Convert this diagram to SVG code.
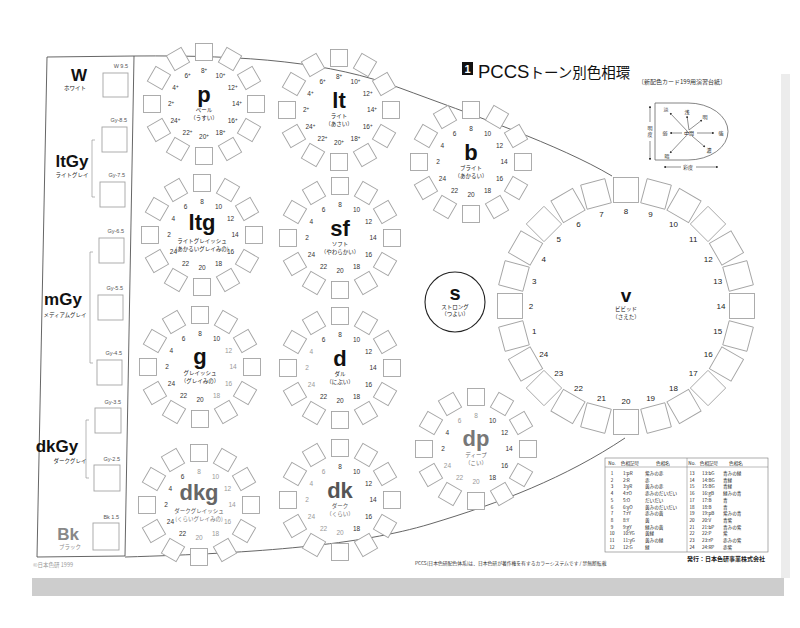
<svg xmlns="http://www.w3.org/2000/svg" width="800" height="628" viewBox="0 0 800 628">
<style>
.sq{fill:#fff;stroke:#a4a4a4;stroke-width:0.9}
.n{font-family:"Liberation Sans",Arial,sans-serif;font-size:6.5px;text-anchor:middle;fill:#333}
.vn{font-family:"Liberation Sans",Arial,sans-serif;font-size:8px;text-anchor:middle;fill:#222}
.sym{font-family:"Liberation Sans",Arial,sans-serif;font-weight:bold;text-anchor:middle;fill:#111}
.jp{font-family:"Noto Sans CJK JP",sans-serif;font-size:5.5px;text-anchor:middle;fill:#222}
.lbl{font-family:"Liberation Sans",Arial,sans-serif;font-size:5.5px;text-anchor:end;fill:#555}
.big{font-family:"Liberation Sans",Arial,sans-serif;font-weight:bold;text-anchor:middle;fill:#111}
.curve{fill:none;stroke:#555;stroke-width:0.9}
.tb{font-family:"Noto Sans CJK JP",sans-serif;font-size:4.6px;fill:#222}
.mini{font-family:"Noto Sans CJK JP",sans-serif;font-size:5px;text-anchor:middle;fill:#222}
.lt{fill:#999}
</style>
<defs>
<rect id="s" x="-8.5" y="-8.5" width="17" height="17" class="sq"/>
<g id="ring12">
<use href="#s" transform="rotate(0) translate(0,-52)"/>
<use href="#s" transform="rotate(30) translate(0,-52)"/>
<use href="#s" transform="rotate(60) translate(0,-52)"/>
<use href="#s" transform="rotate(90) translate(0,-52)"/>
<use href="#s" transform="rotate(120) translate(0,-52)"/>
<use href="#s" transform="rotate(150) translate(0,-52)"/>
<use href="#s" transform="rotate(180) translate(0,-52)"/>
<use href="#s" transform="rotate(210) translate(0,-52)"/>
<use href="#s" transform="rotate(240) translate(0,-52)"/>
<use href="#s" transform="rotate(270) translate(0,-52)"/>
<use href="#s" transform="rotate(300) translate(0,-52)"/>
<use href="#s" transform="rotate(330) translate(0,-52)"/>
</g>
<rect id="vs" x="-12.5" y="-12.5" width="25" height="25" class="sq"/>
<g id="ring24">
<use href="#vs" transform="rotate(0) translate(0,-116)"/>
<use href="#vs" transform="rotate(15) translate(0,-116)"/>
<use href="#vs" transform="rotate(30) translate(0,-116)"/>
<use href="#vs" transform="rotate(45) translate(0,-116)"/>
<use href="#vs" transform="rotate(60) translate(0,-116)"/>
<use href="#vs" transform="rotate(75) translate(0,-116)"/>
<use href="#vs" transform="rotate(90) translate(0,-116)"/>
<use href="#vs" transform="rotate(105) translate(0,-116)"/>
<use href="#vs" transform="rotate(120) translate(0,-116)"/>
<use href="#vs" transform="rotate(135) translate(0,-116)"/>
<use href="#vs" transform="rotate(150) translate(0,-116)"/>
<use href="#vs" transform="rotate(165) translate(0,-116)"/>
<use href="#vs" transform="rotate(180) translate(0,-116)"/>
<use href="#vs" transform="rotate(195) translate(0,-116)"/>
<use href="#vs" transform="rotate(210) translate(0,-116)"/>
<use href="#vs" transform="rotate(225) translate(0,-116)"/>
<use href="#vs" transform="rotate(240) translate(0,-116)"/>
<use href="#vs" transform="rotate(255) translate(0,-116)"/>
<use href="#vs" transform="rotate(270) translate(0,-116)"/>
<use href="#vs" transform="rotate(285) translate(0,-116)"/>
<use href="#vs" transform="rotate(300) translate(0,-116)"/>
<use href="#vs" transform="rotate(315) translate(0,-116)"/>
<use href="#vs" transform="rotate(330) translate(0,-116)"/>
<use href="#vs" transform="rotate(345) translate(0,-116)"/>
</g>
<marker id="ah" viewBox="0 0 6 6" refX="5" refY="3" markerWidth="4" markerHeight="4" orient="auto-start-reverse"><path d="M0,0 L6,3 L0,6 Z" fill="#333"/></marker>
</defs>

<rect width="800" height="628" fill="#fff"/>
<!-- page shadow -->
<g id="paper">
<polygon points="32,578 784,578 784,596 32,596" fill="#cdcdcd"/>
<polygon points="781,74 790,74 790,578 781,578" fill="#ececec"/>
</g>

<!-- outline curves -->
<g id="connectors">
<polygon points="47,57 134,56 125,556 37,557" class="curve"/>
<path class="curve" d="M134,56 C250,55 330,62 400,88 S560,145 612,176"/>
<path class="curve" d="M125,557 C260,553 360,545 430,524 S565,478 625,438"/>
<line x1="92" y1="140" x2="92" y2="197" stroke="#999" stroke-width="0.7"/>
<line x1="92" y1="140" x2="95" y2="140" stroke="#999" stroke-width="0.7"/>
<line x1="92" y1="197" x2="95" y2="197" stroke="#999" stroke-width="0.7"/>
<line x1="90" y1="252" x2="90" y2="363" stroke="#999" stroke-width="0.7"/>
<line x1="90" y1="252" x2="93" y2="252" stroke="#999" stroke-width="0.7"/>
<line x1="90" y1="363" x2="93" y2="363" stroke="#999" stroke-width="0.7"/>
<line x1="86" y1="420" x2="86" y2="478" stroke="#999" stroke-width="0.7"/>
<line x1="86" y1="420" x2="89" y2="420" stroke="#999" stroke-width="0.7"/>
<line x1="86" y1="478" x2="89" y2="478" stroke="#999" stroke-width="0.7"/>
</g>

<!-- achromatic column -->
<g id="achromatic">
<rect x="103" y="73" width="25" height="24" class="sq"/><text class="lbl" x="128" y="68">W 9.5</text>
<rect x="102" y="127" width="25" height="25" class="sq"/><text class="lbl" x="127" y="122">Gy-8.5</text>
<rect x="100" y="182" width="25" height="25" class="sq"/><text class="lbl" x="125" y="177">Gy-7.5</text>
<rect x="99" y="238" width="25" height="25" class="sq"/><text class="lbl" x="124" y="233">Gy-6.5</text>
<rect x="98" y="295" width="25" height="25" class="sq"/><text class="lbl" x="123" y="290">Gy-5.5</text>
<rect x="97" y="360" width="25" height="25" class="sq"/><text class="lbl" x="122" y="355">Gy-4.5</text>
<rect x="95" y="408" width="26" height="25" class="sq"/><text class="lbl" x="121" y="404">Gy-3.5</text>
<rect x="94" y="465" width="26" height="26" class="sq"/><text class="lbl" x="120" y="461">Gy-2.5</text>
<rect x="93" y="523" width="26" height="27" class="sq"/><text class="lbl" x="119" y="519">Bk 1.5</text>
<text class="big" x="79" y="81" font-size="17">W</text><text class="jp" x="75" y="90">ホワイト</text>
<text class="big" x="72" y="167" font-size="17">ltGy</text><text class="jp" x="72" y="177">ライトグレイ</text>
<text class="big" x="63" y="305" font-size="17">mGy</text><text class="jp" x="65" y="317">メディアムグレイ</text>
<text class="big" x="57" y="452" font-size="17">dkGy</text><text class="jp" x="70" y="463">ダークグレイ</text>
<text class="big" x="68" y="540" font-size="17" style="fill:#888">Bk</text><text class="jp" x="70" y="549" style="fill:#888">ブラック</text>
<text x="33" y="567" font-family="Noto Sans CJK JP,sans-serif" font-size="5.5" fill="#999">©日本色研 1999</text>
</g>

<!-- p -->
<g id="tone-p" transform="translate(204,104)">
<use href="#ring12"/>
<g class="n">
<text x="-33" y="2.3">2<tspan font-size="4.5" dy="-2">+</tspan></text>
<text x="-28.6" y="-14.2">4<tspan font-size="4.5" dy="-2">+</tspan></text>
<text x="-16.5" y="-26.3">6<tspan font-size="4.5" dy="-2">+</tspan></text>
<text x="0" y="-30.7">8<tspan font-size="4.5" dy="-2">+</tspan></text>
<text x="16.5" y="-26.3">10<tspan font-size="4.5" dy="-2">+</tspan></text>
<text x="28.6" y="-14.2">12<tspan font-size="4.5" dy="-2">+</tspan></text>
<text x="33" y="2.3">14<tspan font-size="4.5" dy="-2">+</tspan></text>
<text x="28.6" y="18.8">16<tspan font-size="4.5" dy="-2">+</tspan></text>
<text x="16.5" y="30.9">18<tspan font-size="4.5" dy="-2">+</tspan></text>
<text x="0" y="35.3">20<tspan font-size="4.5" dy="-2">+</tspan></text>
<text x="-16.5" y="30.9">22<tspan font-size="4.5" dy="-2">+</tspan></text>
<text x="-28.6" y="18.8">24<tspan font-size="4.5" dy="-2">+</tspan></text>
</g>
<text class="sym" x="0" y="-2" font-size="22">p</text>
<text class="jp" x="0" y="8">ペール</text>
<text class="jp" x="0" y="16">（うすい）</text>
</g>

<!-- lt -->
<g id="tone-lt" transform="translate(339,110)">
<use href="#ring12"/>
<g class="n">
<text x="-33" y="2.3">2<tspan font-size="4.5" dy="-2">+</tspan></text>
<text x="-28.6" y="-14.2">4<tspan font-size="4.5" dy="-2">+</tspan></text>
<text x="-16.5" y="-26.3">6<tspan font-size="4.5" dy="-2">+</tspan></text>
<text x="0" y="-30.7">8<tspan font-size="4.5" dy="-2">+</tspan></text>
<text x="16.5" y="-26.3">10<tspan font-size="4.5" dy="-2">+</tspan></text>
<text x="28.6" y="-14.2">12<tspan font-size="4.5" dy="-2">+</tspan></text>
<text x="33" y="2.3">14<tspan font-size="4.5" dy="-2">+</tspan></text>
<text x="28.6" y="18.8">16<tspan font-size="4.5" dy="-2">+</tspan></text>
<text x="16.5" y="30.9">18<tspan font-size="4.5" dy="-2">+</tspan></text>
<text x="0" y="35.3">20<tspan font-size="4.5" dy="-2">+</tspan></text>
<text x="-16.5" y="30.9">22<tspan font-size="4.5" dy="-2">+</tspan></text>
<text x="-28.6" y="18.8">24<tspan font-size="4.5" dy="-2">+</tspan></text>
</g>
<text class="sym" x="0" y="-2" font-size="22">lt</text>
<text class="jp" x="0" y="8">ライト</text>
<text class="jp" x="0" y="16">（あさい）</text>
</g>

<!-- ltg -->
<g id="tone-ltg" transform="translate(202,235)">
<use href="#ring12"/>
<g class="n">
<text x="-33" y="2.3">2</text><text x="-28.6" y="-14.2">4</text><text x="-16.5" y="-26.3">6</text><text x="0" y="-30.7">8</text>
<text x="16.5" y="-26.3">10</text><text x="28.6" y="-14.2">12</text><text x="33" y="2.3">14</text><text x="28.6" y="18.8">16</text>
<text x="16.5" y="30.9">18</text><text x="0" y="35.3">20</text><text x="-16.5" y="30.9">22</text><text x="-28.6" y="18.8">24</text>
</g>
<text class="sym" x="0" y="-5" font-size="22">ltg</text>
<text class="jp" x="0" y="8" font-size="4.2">ライトグレイッシュ</text>
<text class="jp" x="0" y="15.5" font-size="4.2">(あかるいグレイみの)</text>
</g>

<!-- sf -->
<g id="tone-sf" transform="translate(340,238)">
<use href="#ring12"/>
<g class="n">
<text x="-33" y="2.3">2</text><text x="-28.6" y="-14.2">4</text><text x="-16.5" y="-26.3">6</text><text x="0" y="-30.7">8</text>
<text x="16.5" y="-26.3">10</text><text x="28.6" y="-14.2">12</text><text x="33" y="2.3">14</text><text x="28.6" y="18.8">16</text>
<text x="16.5" y="30.9">18</text><text x="0" y="35.3">20</text><text x="-16.5" y="30.9">22</text><text x="-28.6" y="18.8">24</text>
</g>
<text class="sym" x="0" y="-2" font-size="22">sf</text>
<text class="jp" x="0" y="8">ソフト</text>
<text class="jp" x="0" y="16">（やわらかい）</text>
</g>

<!-- g -->
<g id="tone-g" transform="translate(200,367)">
<use href="#ring12"/>
<g class="n">
<text x="-33" y="2.3">2</text><text x="-28.6" y="-14.2">4</text><text x="-16.5" y="-26.3">6</text><text x="0" y="-30.7">8</text>
<text x="16.5" y="-26.3">10</text><text x="28.6" y="-14.2" class="lt">12</text><text x="33" y="2.3" class="lt">14</text><text x="28.6" y="18.8" class="lt">16</text>
<text x="16.5" y="30.9" class="lt">18</text><text x="0" y="35.3">20</text><text x="-16.5" y="30.9">22</text><text x="-28.6" y="18.8">24</text>
</g>
<text class="sym" x="0" y="-3" font-size="22">g</text>
<text class="jp" x="0" y="8">グレイッシュ</text>
<text class="jp" x="0" y="16">（グレイみの）</text>
</g>

<!-- d -->
<g id="tone-d" transform="translate(340,368)">
<use href="#ring12"/>
<g class="n">
<text x="-33" y="2.3" class="lt">2</text><text x="-28.6" y="-14.2" class="lt">4</text><text x="-16.5" y="-26.3">6</text><text x="0" y="-30.7">8</text>
<text x="16.5" y="-26.3">10</text><text x="28.6" y="-14.2">12</text><text x="33" y="2.3">14</text><text x="28.6" y="18.8">16</text>
<text x="16.5" y="30.9">18</text><text x="0" y="35.3">20</text><text x="-16.5" y="30.9">22</text><text x="-28.6" y="18.8" class="lt">24</text>
</g>
<text class="sym" x="0" y="-2" font-size="22">d</text>
<text class="jp" x="0" y="8">ダル</text>
<text class="jp" x="0" y="16">（にぶい）</text>
</g>

<!-- dkg -->
<g id="tone-dkg" transform="translate(199,505)">
<use href="#ring12"/>
<g class="n">
<text x="-33" y="2.3">2</text><text x="-28.6" y="-14.2">4</text><text x="-16.5" y="-26.3">6</text><text x="0" y="-30.7" class="lt">8</text>
<text x="16.5" y="-26.3" class="lt">10</text><text x="28.6" y="-14.2" class="lt">12</text><text x="33" y="2.3" class="lt">14</text><text x="28.6" y="18.8" class="lt">16</text>
<text x="16.5" y="30.9" class="lt">18</text><text x="0" y="35.3" class="lt">20</text><text x="-16.5" y="30.9">22</text><text x="-28.6" y="18.8">24</text>
</g>
<text class="sym" x="0" y="-5" font-size="22" style="fill:#666">dkg</text>
<text class="jp" x="0" y="8" font-size="4.2" style="fill:#555">ダークグレイッシュ</text>
<text class="jp" x="0" y="15.5" font-size="4.2" style="fill:#777">(くらいグレイみの)</text>
</g>

<!-- dk -->
<g id="tone-dk" transform="translate(340,500)">
<use href="#ring12"/>
<g class="n">
<text x="-33" y="2.3" class="lt">2</text><text x="-28.6" y="-14.2" class="lt">4</text><text x="-16.5" y="-26.3" class="lt">6</text><text x="0" y="-30.7">8</text>
<text x="16.5" y="-26.3">10</text><text x="28.6" y="-14.2">12</text><text x="33" y="2.3">14</text><text x="28.6" y="18.8">16</text>
<text x="16.5" y="30.9">18</text><text x="0" y="35.3" class="lt">20</text><text x="-16.5" y="30.9" class="lt">22</text><text x="-28.6" y="18.8" class="lt">24</text>
</g>
<text class="sym" x="0" y="-2" font-size="22" style="fill:#555">dk</text>
<text class="jp" x="0" y="8" style="fill:#555">ダーク</text>
<text class="jp" x="0" y="16" style="fill:#666">（くらい）</text>
</g>

<!-- b -->
<g id="tone-b" transform="translate(471,162)">
<use href="#ring12"/>
<g class="n">
<text x="-33" y="2.3">2</text><text x="-28.6" y="-14.2">4</text><text x="-16.5" y="-26.3">6</text><text x="0" y="-30.7">8</text>
<text x="16.5" y="-26.3">10</text><text x="28.6" y="-14.2">12</text><text x="33" y="2.3">14</text><text x="28.6" y="18.8">16</text>
<text x="16.5" y="30.9">18</text><text x="0" y="35.3">20</text><text x="-16.5" y="30.9">22</text><text x="-28.6" y="18.8">24</text>
</g>
<text class="sym" x="0" y="-2" font-size="22">b</text>
<text class="jp" x="0" y="8">ブライト</text>
<text class="jp" x="0" y="16">（あかるい）</text>
</g>

<!-- s -->
<g id="tone-s" transform="translate(455,302)">
<circle r="30" fill="#fff" stroke="#222" stroke-width="1.1"/>
<text class="sym" x="0" y="-2" font-size="20">s</text>
<text class="jp" x="0" y="7">ストロング</text>
<text class="jp" x="0" y="14">（つよい）</text>
</g>

<!-- dp -->
<g id="tone-dp" transform="translate(476,449)">
<use href="#ring12"/>
<g class="n">
<text x="-33" y="2.3">2</text><text x="-28.6" y="-14.2">4</text><text x="-16.5" y="-26.3" class="lt">6</text><text x="0" y="-30.7" class="lt">8</text>
<text x="16.5" y="-26.3">10</text><text x="28.6" y="-14.2">12</text><text x="33" y="2.3">14</text><text x="28.6" y="18.8">16</text>
<text x="16.5" y="30.9">18</text><text x="0" y="35.3" class="lt">20</text><text x="-16.5" y="30.9" class="lt">22</text><text x="-28.6" y="18.8" class="lt">24</text>
</g>
<text class="sym" x="0" y="-3" font-size="22" style="fill:#777">dp</text>
<text class="jp" x="0" y="8" style="fill:#666">ディープ</text>
<text class="jp" x="0" y="16" style="fill:#666">（こい）</text>
</g>

<!-- v -->
<g id="tone-v" transform="translate(626,306)">
<use href="#ring24"/>
<g class="vn">
<text x="-91.8" y="27.6">1</text><text x="-95" y="3">2</text><text x="-91.8" y="-21.6">3</text><text x="-82.3" y="-44.5">4</text>
<text x="-67.2" y="-64.2">5</text><text x="-47.5" y="-79.3">6</text><text x="-24.6" y="-88.8">7</text><text x="0" y="-92">8</text>
<text x="24.6" y="-88.8">9</text><text x="47.5" y="-79.3">10</text><text x="67.2" y="-64.2">11</text><text x="82.3" y="-44.5">12</text>
<text x="91.8" y="-21.6">13</text><text x="95" y="3">14</text><text x="91.8" y="27.6">15</text><text x="82.3" y="50.5">16</text>
<text x="67.2" y="70.2">17</text><text x="47.5" y="85.3">18</text><text x="24.6" y="94.8">19</text><text x="0" y="98">20</text>
<text x="-24.6" y="94.8">21</text><text x="-47.5" y="85.3">22</text><text x="-67.2" y="70.2">23</text><text x="-82.3" y="50.5">24</text>
</g>
<text class="sym" x="0" y="-4.5" font-size="19">v</text>
<text class="jp" x="0" y="5" font-size="5">ビビッド</text>
<text class="jp" x="0" y="12.5" font-size="5">（さえた）</text>
</g>

<!-- title -->
<g id="title">
<rect x="462" y="62" width="11" height="13" fill="#111"/>
<text x="467.5" y="73" font-family="Liberation Sans,Arial,sans-serif" font-weight="bold" font-size="11" fill="#fff" text-anchor="middle">1</text>
<text x="478" y="78" font-family="Liberation Sans,Noto Sans CJK JP,sans-serif" fill="#111"><tspan font-size="18.5">PCCS</tspan><tspan font-size="14.5" font-family="Noto Sans CJK JP,sans-serif">トーン別色相環</tspan></text>
<text x="638" y="84" font-family="Noto Sans CJK JP,sans-serif" font-size="6" fill="#333">〔新配色カード199用演習台紙〕</text>
</g>

<!-- tone map -->
<g id="tone-map" stroke="#444" stroke-width="0.6">
<path d="M655,103 H688 A40,28.5 0 0 1 688,160 H655 Z" fill="none" stroke="#666" stroke-width="0.8"/>
<line x1="689" y1="133" x2="670" y2="113" marker-end="url(#ah)"/>
<line x1="689" y1="130" x2="687" y2="116" marker-end="url(#ah)"/>
<line x1="689" y1="130" x2="702" y2="120" marker-end="url(#ah)"/>
<line x1="697" y1="133" x2="714" y2="133" marker-end="url(#ah)"/>
<line x1="682" y1="133" x2="670" y2="133" marker-end="url(#ah)"/>
<line x1="692" y1="136" x2="705" y2="147" marker-end="url(#ah)"/>
<line x1="686" y1="136" x2="670" y2="153" marker-end="url(#ah)"/>
<line x1="650" y1="122" x2="650" y2="106" marker-end="url(#ah)"/>
<line x1="650" y1="141" x2="650" y2="160" marker-end="url(#ah)"/>
<line x1="681" y1="167" x2="664" y2="167" marker-end="url(#ah)"/>
<line x1="696" y1="167" x2="718" y2="167" marker-end="url(#ah)"/>
<g class="mini" stroke="none">
<text x="666" y="111">淡</text><text x="687" y="114">浅</text><text x="705" y="119">明</text>
<text x="689" y="135">中間</text><text x="665" y="135">弱</text><text x="721" y="135">強</text>
<text x="709" y="152">濃</text><text x="667" y="158">暗</text>
<text x="650" y="130">明</text><text x="650" y="136">度</text>
<text x="688" y="169">彩度</text>
</g>
</g>

<!-- hue table -->
<g id="hue-table">
<rect x="605" y="458" width="163" height="94" fill="none" stroke="#777" stroke-width="0.6"/>
<line x1="605" y1="467" x2="768" y2="467" stroke="#777" stroke-width="0.5"/>
<line x1="687" y1="458" x2="687" y2="552" stroke="#777" stroke-width="0.5"/>
<g class="tb" text-anchor="middle">
<text x="612" y="464.5">No.</text><text x="630" y="464.5">色相記号</text><text x="663" y="464.5">色相名</text>
<text x="692" y="464.5">No.</text><text x="709" y="464.5">色相記号</text><text x="736" y="464.5">色相名</text>
<text><tspan x="612" y="475">1</tspan><tspan x="612" dy="6.7">2</tspan><tspan x="612" dy="6.7">3</tspan><tspan x="612" dy="6.7">4</tspan><tspan x="612" dy="6.7">5</tspan><tspan x="612" dy="6.7">6</tspan><tspan x="612" dy="6.7">7</tspan><tspan x="612" dy="6.7">8</tspan><tspan x="612" dy="6.7">9</tspan><tspan x="612" dy="6.7">10</tspan><tspan x="612" dy="6.7">11</tspan><tspan x="612" dy="6.7">12</tspan></text>
<text><tspan x="692" y="475">13</tspan><tspan x="692" dy="6.7">14</tspan><tspan x="692" dy="6.7">15</tspan><tspan x="692" dy="6.7">16</tspan><tspan x="692" dy="6.7">17</tspan><tspan x="692" dy="6.7">18</tspan><tspan x="692" dy="6.7">19</tspan><tspan x="692" dy="6.7">20</tspan><tspan x="692" dy="6.7">21</tspan><tspan x="692" dy="6.7">22</tspan><tspan x="692" dy="6.7">23</tspan><tspan x="692" dy="6.7">24</tspan></text>
</g>
<g class="tb">
<text><tspan x="623" y="475">1:pR</tspan><tspan x="623" dy="6.7">2:R</tspan><tspan x="623" dy="6.7">3:yR</tspan><tspan x="623" dy="6.7">4:rO</tspan><tspan x="623" dy="6.7">5:O</tspan><tspan x="623" dy="6.7">6:yO</tspan><tspan x="623" dy="6.7">7:rY</tspan><tspan x="623" dy="6.7">8:Y</tspan><tspan x="623" dy="6.7">9:gY</tspan><tspan x="623" dy="6.7">10:YG</tspan><tspan x="623" dy="6.7">11:yG</tspan><tspan x="623" dy="6.7">12:G</tspan></text>
<text><tspan x="645" y="475">紫みの赤</tspan><tspan x="645" dy="6.7">赤</tspan><tspan x="645" dy="6.7">黄みの赤</tspan><tspan x="645" dy="6.7">赤みのだいだい</tspan><tspan x="645" dy="6.7">だいだい</tspan><tspan x="645" dy="6.7">黄みのだいだい</tspan><tspan x="645" dy="6.7">赤みの黄</tspan><tspan x="645" dy="6.7">黄</tspan><tspan x="645" dy="6.7">緑みの黄</tspan><tspan x="645" dy="6.7">黄緑</tspan><tspan x="645" dy="6.7">黄みの緑</tspan><tspan x="645" dy="6.7">緑</tspan></text>
<text><tspan x="702" y="475">13:bG</tspan><tspan x="702" dy="6.7">14:BG</tspan><tspan x="702" dy="6.7">15:BG</tspan><tspan x="702" dy="6.7">16:gB</tspan><tspan x="702" dy="6.7">17:B</tspan><tspan x="702" dy="6.7">18:B</tspan><tspan x="702" dy="6.7">19:pB</tspan><tspan x="702" dy="6.7">20:V</tspan><tspan x="702" dy="6.7">21:bP</tspan><tspan x="702" dy="6.7">22:P</tspan><tspan x="702" dy="6.7">23:rP</tspan><tspan x="702" dy="6.7">24:RP</tspan></text>
<text><tspan x="723" y="475">青みの緑</tspan><tspan x="723" dy="6.7">青緑</tspan><tspan x="723" dy="6.7">青緑</tspan><tspan x="723" dy="6.7">緑みの青</tspan><tspan x="723" dy="6.7">青</tspan><tspan x="723" dy="6.7">青</tspan><tspan x="723" dy="6.7">紫みの青</tspan><tspan x="723" dy="6.7">青紫</tspan><tspan x="723" dy="6.7">青みの紫</tspan><tspan x="723" dy="6.7">紫</tspan><tspan x="723" dy="6.7">赤みの紫</tspan><tspan x="723" dy="6.7">赤紫</tspan></text>
</g>
</g>

<g id="footer">
<text x="415" y="565" font-family="Noto Sans CJK JP,sans-serif" font-size="4.8" fill="#333">PCCS(日本色研配色体系)は、日本色研が著作権を有するカラーシステムです / 禁無断転載</text>
<text x="765" y="561" text-anchor="end" font-family="Noto Sans CJK JP,sans-serif" font-size="6" font-weight="bold" fill="#222">発行：日本色研事業株式会社</text>
</g>
</svg>
